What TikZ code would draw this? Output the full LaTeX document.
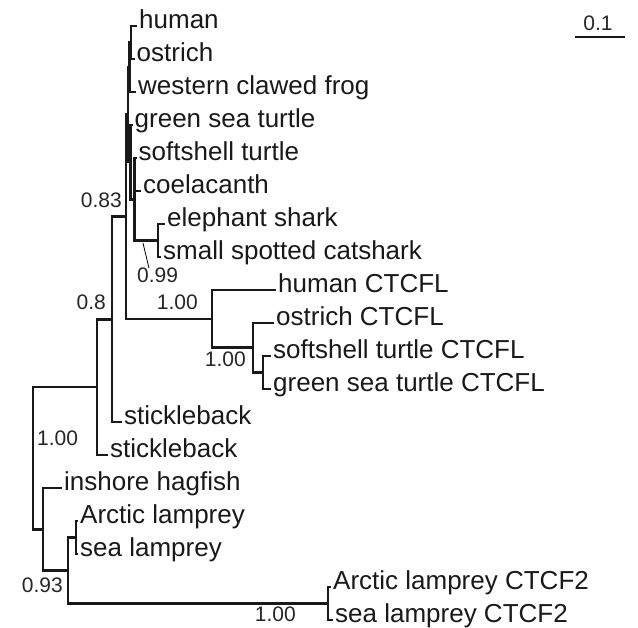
\documentclass[tikz,border=0pt]{standalone}
\usepackage{fontspec}
\setmainfont{Liberation Sans}
\begin{document}
\begin{tikzpicture}[x=1pt,y=-1pt,
  br/.style={line width=2.6pt, line join=miter, draw=black!90},
  leaf/.style={anchor=mid west, inner xsep=2pt, inner ysep=0pt, font=\fontsize{26}{30}\selectfont, text=black!90},
  sup/.style={inner sep=0pt, font=\fontsize{21}{24}\selectfont, text=black!85}]
\useasboundingbox (0,0) rectangle (638,628);
% leaf tips
\coordinate (t0) at (137,26);
\coordinate (t1) at (134.5,59);
\coordinate (t2) at (136,92);
\coordinate (t3) at (132.5,125);
\coordinate (t4) at (136.5,158);
\coordinate (t5) at (141,191);
\coordinate (t6) at (165,224);
\coordinate (t7) at (161,257);
\coordinate (t8) at (276,290);
\coordinate (t9) at (274,323);
\coordinate (t10) at (271,356);
\coordinate (t11) at (271,389);
\coordinate (t12) at (122,422);
\coordinate (t13) at (108,455);
\coordinate (t14) at (62,488);
\coordinate (t15) at (78,521);
\coordinate (t16) at (78,554);
\coordinate (t17) at (331,587);
\coordinate (t18) at (333,620);
% leaf labels
\node[leaf] (l0) at (t0) {human};
\node[leaf] (l1) at (t1) {ostrich};
\node[leaf] (l2) at (t2) {western clawed frog};
\node[leaf] (l3) at (t3) {green sea turtle};
\node[leaf] (l4) at (t4) {softshell turtle};
\node[leaf] (l5) at (t5) {coelacanth};
\node[leaf] (l6) at (t6) {elephant shark};
\node[leaf] (l7) at (t7) {small spotted catshark};
\node[leaf] (l8) at (t8) {human CTCFL};
\node[leaf] (l9) at (t9) {ostrich CTCFL};
\node[leaf] (l10) at (t10) {softshell turtle CTCFL};
\node[leaf] (l11) at (t11) {green sea turtle CTCFL};
\node[leaf] (l12) at (t12) {stickleback};
\node[leaf] (l13) at (t13) {stickleback};
\node[leaf] (l14) at (t14) {inshore hagfish};
\node[leaf] (l15) at (t15) {Arctic lamprey};
\node[leaf] (l16) at (t16) {sea lamprey};
\node[leaf] (l17) at (t17) {Arctic lamprey CTCF2};
\node[leaf] (l18) at (t18) {sea lamprey CTCF2};
% internal nodes
\coordinate (n1) at (131,42.5);
\coordinate (n2) at (129.5,67.25);
\coordinate (nS) at (158,240.5);
\coordinate (nP) at (134.5,199.25);
\coordinate (nPc) at (134.5,191);
\coordinate (nQ) at (130.5,162.1);
\coordinate (nG) at (128,114.7);
\coordinate (nK) at (263,372.5);
\coordinate (nJ) at (253,347.75);
\coordinate (nI) at (212,318.9);
\coordinate (nF) at (126,216.8);
\coordinate (nE) at (112,319.4);
\coordinate (nD) at (97,387.2);
\coordinate (nC) at (76,537.5);
\coordinate (nH) at (328,603.5);
\coordinate (nB) at (68,570.5);
\coordinate (nA) at (43,529.25);
\coordinate (nR) at (33,458.2);
% branches
\draw[br] (t0) -| (n1) |- (t1);
\draw[br] (n1) -| (n2) |- (t2);
\draw[br] (t6) -| (nS) |- (t7);
\draw[br] (t4) -| (nP) |- (nS);
\draw[br] (nPc) -- (t5);
\draw[br] (t3) -| (nQ) |- (nP);
\draw[br] (n2) -| (nG) |- (nQ);
\draw[br] (t10) -| (nK) |- (t11);
\draw[br] (t9) -| (nJ) |- (nK);
\draw[br] (t8) -| (nI) |- (nJ);
\draw[br] (nG) -| (nF) |- (nI);
\draw[br] (nF) -| (nE) |- (t12);
\draw[br] (nE) -| (nD) |- (t13);
\draw[br] (t15) -| (nC) |- (t16);
\draw[br] (t17) -| (nH) |- (t18);
\draw[br] (nC) -| (nB) |- (nH);
\draw[br] (t14) -| (nA) |- (nB);
\draw[br] (nD) -| (nR) |- (nA);
% support values
\node[sup, anchor=base east] (s083) at (122,208) {0.83};
\node[sup, anchor=base west] (s099) at (137,283) {0.99};
\coordinate (p099) at (143,243);
\draw[line width=0.8pt] (p099) -- (s099.north west -| 149,0);
\node[sup, anchor=base east] (s100I) at (198,310) {1.00};
\node[sup, anchor=base east] (s100J) at (246,367) {1.00};
\node[sup, anchor=base east] (s08) at (106,310) {0.8};
\node[sup, anchor=base west] (s100R) at (37,446) {1.00};
\node[sup, anchor=base east] (s093) at (63,592) {0.93};
\node[sup, anchor=base east] (s100H) at (296,621) {1.00};
% scale bar
\coordinate (sb1) at (575,37);
\coordinate (sb2) at (625,37);
\draw[line width=2.6pt, black!90] (sb1) -- (sb2);
\node[sup, anchor=base] (sbl) at (598,31) {0.1};
\end{tikzpicture}
\end{document}
